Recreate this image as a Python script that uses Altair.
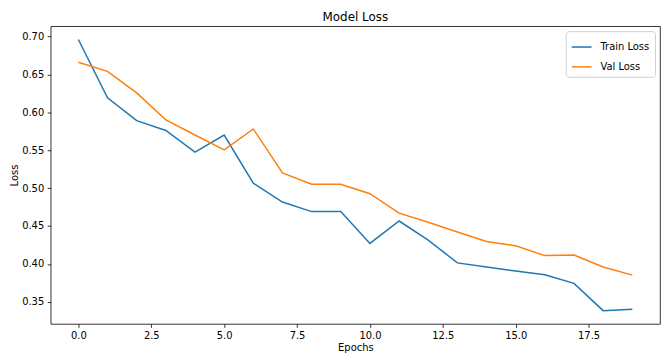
import altair as alt
import pandas as pd

epochs = list(range(20))
train_loss = [0.696, 0.619, 0.589, 0.576, 0.5475, 0.570, 0.5064, 0.4816, 0.469, 0.469,
              0.427, 0.4566, 0.4315, 0.4014, 0.3959, 0.3907, 0.3856, 0.3744, 0.3384, 0.3402]
val_loss = [0.666, 0.654, 0.6255, 0.590, 0.570, 0.5504, 0.578, 0.520, 0.505, 0.505,
            0.4926, 0.467, 0.455, 0.442, 0.4295, 0.424, 0.411, 0.4117, 0.396, 0.3852]
series_names = ["Train Loss", "Val Loss"]
series_colors = ["#1f77b4", "#ff7f0e"]
x_ticks = [0, 2.5, 5, 7.5, 10, 12.5, 15, 17.5]
y_ticks = [0.35, 0.40, 0.45, 0.50, 0.55, 0.60, 0.65, 0.70]

rows = []
for e, v in zip(epochs, train_loss):
    rows.append({"Epoch": e, "Loss": v, "Series": series_names[0]})
for e, v in zip(epochs, val_loss):
    rows.append({"Epoch": e, "Loss": v, "Series": series_names[1]})
df = pd.DataFrame(rows)

FONT = "DejaVu Sans"

chart = alt.Chart(df).mark_line(strokeWidth=1.5).encode(
    x=alt.X("Epoch:Q",
            scale=alt.Scale(domain=[-0.95, 19.95], nice=False, zero=False),
            axis=alt.Axis(values=x_ticks, format=".1f", title="Epochs", titlePadding=2)),
    y=alt.Y("Loss:Q",
            scale=alt.Scale(domain=[0.3209, 0.7135], nice=False, zero=False),
            axis=alt.Axis(values=y_ticks, format=".2f", title="Loss", titlePadding=2)),
    color=alt.Color("Series:N",
                    scale=alt.Scale(domain=series_names, range=series_colors),
                    legend=alt.Legend(title=None, orient="top-right", offset=5,
                                      symbolType="stroke", symbolSize=400,
                                      symbolStrokeWidth=1.5, labelOffset=8,
                                      fillColor="white", strokeColor="#d0d0d0",
                                      cornerRadius=3, padding=5, rowPadding=4,
                                      labelFontSize=10, labelFont=FONT,
                                      labelColor="black")),
).properties(
    width=614,
    height=300,
    title=alt.TitleParams("Model Loss", font=FONT, fontSize=12, fontWeight="normal",
                          color="black", anchor="middle", offset=2),
    autosize=alt.AutoSizeParams(type="none"),
    padding={"left": 43, "top": 17, "right": 1, "bottom": 31},
).configure_view(
    stroke="black", strokeWidth=0.8
).configure_axis(
    domain=False, grid=False,
    tickColor="black", tickWidth=0.8, tickSize=3.5,
    labelFont=FONT, labelFontSize=10, labelColor="black", labelPadding=3.5,
    titleFont=FONT, titleFontSize=10, titleFontWeight="normal", titleColor="black",
)

chart.save("out.html", embed_options={"renderer": "svg", "actions": False})
